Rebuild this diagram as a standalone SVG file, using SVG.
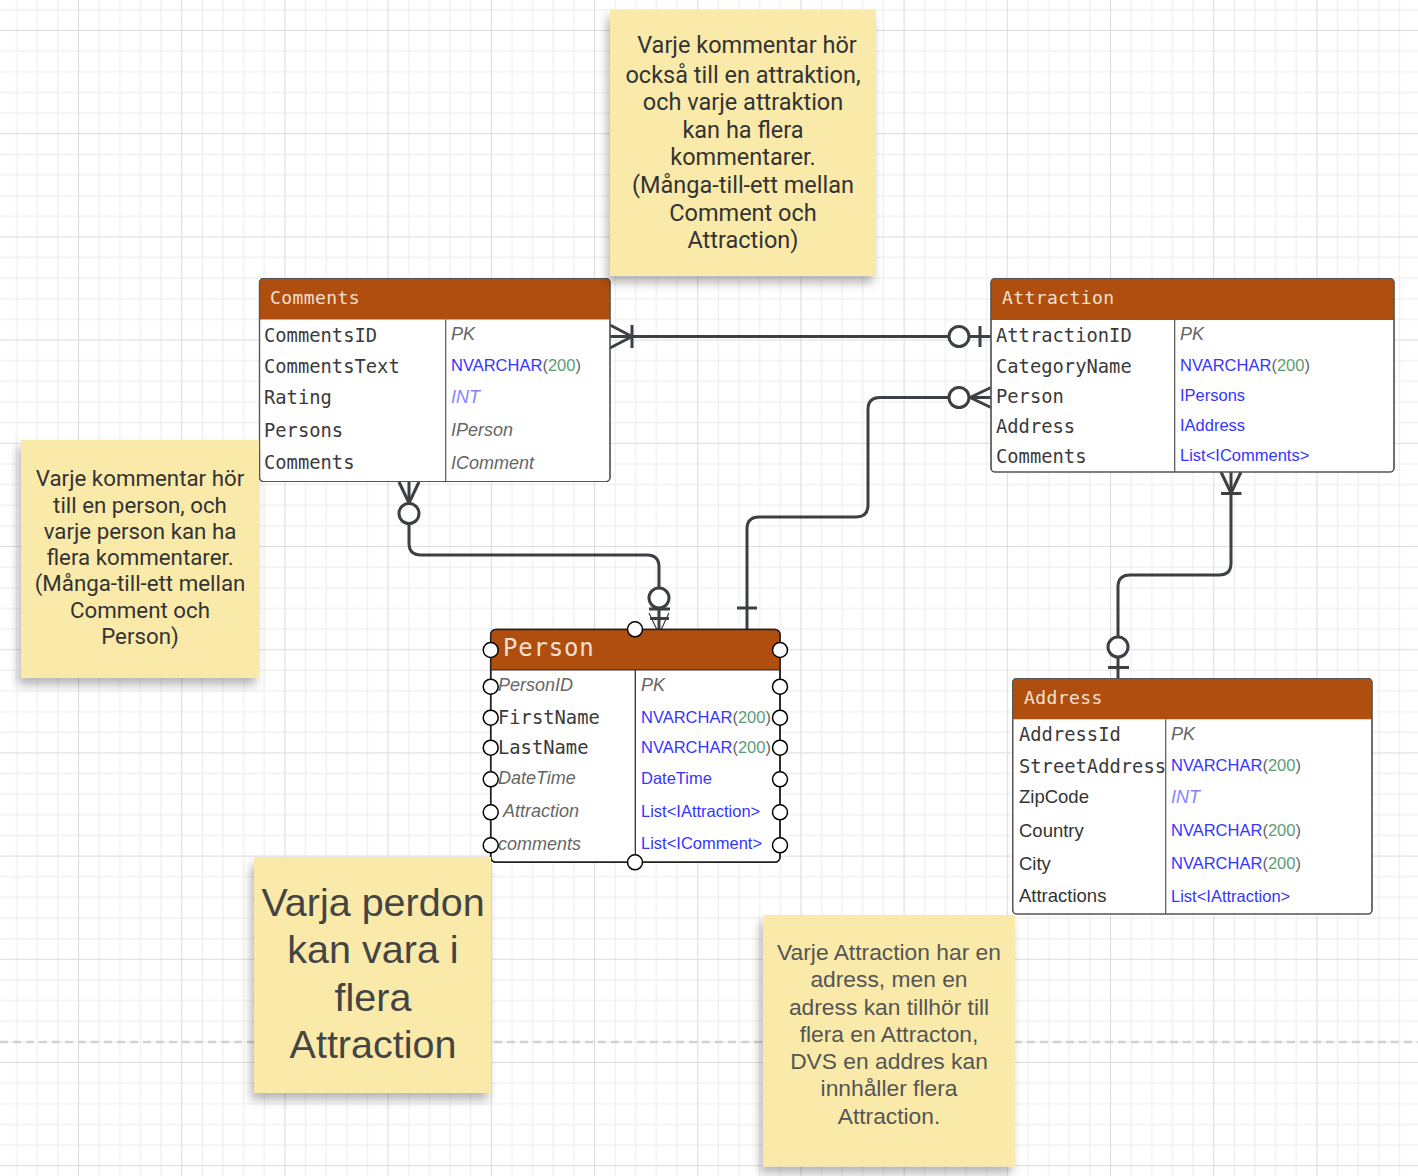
<svg xmlns="http://www.w3.org/2000/svg" width="1418" height="1176" viewBox="0 0 1418 1176">
<style>
.mono{font-family:"DejaVu Sans Mono","Liberation Mono",monospace;font-size:18.8px;fill:#3a3a3a}
.hdr{font-family:"DejaVu Sans Mono","Liberation Mono",monospace;font-size:18px;fill:#f3e2d2;letter-spacing:0.4px}
.typ{font-family:"Liberation Sans",Arial,sans-serif;font-size:16.5px;fill:#3535ff}
.par{fill:#666}
.num{fill:#5a9e72}
.it{font-family:"Liberation Sans",Arial,sans-serif;font-size:18px;font-style:italic;fill:#666}
.int{font-family:"Liberation Sans",Arial,sans-serif;font-size:18px;font-style:italic;fill:#8585ff}
.sans{font-family:"Liberation Sans",Arial,sans-serif;font-size:18.5px;fill:#333}
.body{fill:#fff;stroke:#555;stroke-width:1.2}
.head{fill:#b04e0f}
.div{stroke:#555;stroke-width:1.2}
.note{fill:#faeaaa;filter:url(#sh)}
.nr{font-family:Roboto,"Liberation Sans",sans-serif;fill:#333;text-anchor:middle}
.na{font-family:"Liberation Sans",Arial,sans-serif;text-anchor:middle}
.cn{fill:none;stroke:#3c3f43;stroke-width:3;stroke-linejoin:round}
.cc{fill:#fff;stroke:#3c3f43;stroke-width:3}
.pt{fill:#fff;stroke:#000;stroke-width:1.5}
</style>
<defs>
<pattern id="grid" width="103.2" height="103.2" patternUnits="userSpaceOnUse" x="78" y="30">
<path d="M21.14 0V103.2M41.78 0V103.2M62.42 0V103.2M83.06 0V103.2M0 21.14H103.2M0 41.78H103.2M0 62.42H103.2M0 83.06H103.2" stroke="#ececec" stroke-width="1" fill="none"/>
<path d="M0.5 0V103.2M0 0.5H103.2" stroke="#dcdcdc" stroke-width="1.2" fill="none"/>
</pattern>
<filter id="sh" x="-20%" y="-20%" width="140%" height="150%">
<feDropShadow dx="-3" dy="7" stdDeviation="5" flood-color="#000" flood-opacity="0.28"/>
</filter>
</defs>
<rect width="1418" height="1176" fill="#fff"/>
<rect width="1418" height="1176" fill="url(#grid)"/>
<line x1="0" y1="1042" x2="1418" y2="1042" stroke="#d2d2d2" stroke-width="2.5" stroke-dasharray="8 5"/>

<g id="connectors">
<path class="cn" d="M610 336.5H991"/>
<path class="cn" d="M610 325L632 336.5L610 348M632 325V348M980 326V347"/>
<circle class="cc" cx="959" cy="336.5" r="10"/>
<path class="cn" d="M991 397.5H880Q868 397.5 868 409.5V505Q868 517 856 517H759Q747 517 747 529V629"/>
<path class="cn" d="M991 387.5L970 397.5L991 407.5M737 608H757"/>
<circle class="cc" cx="959" cy="397.5" r="10"/>
<path class="cn" d="M409 482V543Q409 555 421 555H647Q659 555 659 567V629"/>
<path class="cn" d="M399 482L409 503L419 482M649 609H670M650 618.5H669"/>
<path d="M649 613L659 634L669 613" fill="none" stroke="#3c3f43" stroke-width="1.2"/>
<circle class="cc" cx="409" cy="513.5" r="10"/>
<circle class="cc" cx="659" cy="598" r="10"/>
<path class="cn" d="M1231 472V563Q1231 575 1219 575H1130Q1118 575 1118 587V678"/>
<path class="cn" d="M1221 472L1231 493L1241 472M1221 493.5H1241.5M1108 667.5H1129"/>
<circle class="cc" cx="1118" cy="647" r="10"/>
</g>

<g id="table-comments">
<rect class="body" x="259.5" y="278.5" width="350.5" height="203" rx="4"/>
<path class="head" d="M263.5 278.5H606Q610 278.5 610 282.5V319.5H259.5V282.5Q259.5 278.5 263.5 278.5Z"/>
<rect x="259.5" y="278.5" width="350.5" height="203" rx="4" fill="none" stroke="#555" stroke-width="1.2"/>
<line class="div" x1="445.7" y1="319.5" x2="445.7" y2="481.5"/>
<text class="hdr" x="270" y="304">Comments</text>
<text class="mono" x="264" y="341.5">CommentsID</text>
<text class="mono" x="264" y="372.5">CommentsText</text>
<text class="mono" x="264" y="404">Rating</text>
<text class="mono" x="264" y="436.5">Persons</text>
<text class="mono" x="264" y="469">Comments</text>
<text class="it" x="451" y="340">PK</text>
<text class="typ" x="451" y="371">NVARCHAR<tspan class="par">(</tspan><tspan class="num">200</tspan><tspan class="par">)</tspan></text>
<text class="int" x="451" y="403">INT</text>
<text class="it" x="451" y="436">IPerson</text>
<text class="it" x="451" y="468.5">IComment</text>
</g>

<g id="table-attraction">
<rect class="body" x="991" y="278.5" width="403" height="193.5" rx="4"/>
<path class="head" d="M995 278.5H1390Q1394 278.5 1394 282.5V320H991V282.5Q991 278.5 995 278.5Z"/>
<rect x="991" y="278.5" width="403" height="193.5" rx="4" fill="none" stroke="#555" stroke-width="1.2"/>
<line class="div" x1="1174.7" y1="320" x2="1174.7" y2="472"/>
<text class="hdr" x="1002" y="304">Attraction</text>
<text class="mono" x="996" y="341.5">AttractionID</text>
<text class="mono" x="996" y="372.5">CategoryName</text>
<text class="mono" x="996" y="402.5">Person</text>
<text class="mono" x="996" y="432.5">Address</text>
<text class="mono" x="996" y="462.5">Comments</text>
<text class="it" x="1180" y="340">PK</text>
<text class="typ" x="1180" y="371">NVARCHAR<tspan class="par">(</tspan><tspan class="num">200</tspan><tspan class="par">)</tspan></text>
<text class="typ" x="1180" y="401">IPersons</text>
<text class="typ" x="1180" y="431">IAddress</text>
<text class="typ" x="1180" y="461">List&lt;IComments&gt;</text>
</g>

<g id="table-person">
<rect x="490.7" y="629.5" width="289.3" height="232.8" rx="5" fill="#fff" stroke="#222" stroke-width="1.5"/>
<path class="head" d="M495.7 629.5H775Q780 629.5 780 634.5V670H490.7V634.5Q490.7 629.5 495.7 629.5Z"/>
<rect x="490.7" y="629.5" width="289.3" height="232.8" rx="5" fill="none" stroke="#222" stroke-width="1.5"/>
<line x1="490.7" y1="670" x2="780" y2="670" stroke="#222" stroke-width="1.2"/>
<line x1="635.3" y1="670" x2="635.3" y2="862.3" stroke="#222" stroke-width="1.2"/>
<text class="hdr" x="503" y="656" style="font-size:24px;letter-spacing:0.8px">Person</text>
<text class="it" x="498" y="690.5">PersonID</text>
<text class="mono" x="498" y="723.5">FirstName</text>
<text class="mono" x="498" y="753.5">LastName</text>
<text class="it" x="498" y="784">DateTime</text>
<text class="it" x="503" y="817">Attraction</text>
<text class="it" x="498" y="849.5">comments</text>
<text class="it" x="641" y="690.5">PK</text>
<text class="typ" x="641" y="722.5">NVARCHAR<tspan class="par">(</tspan><tspan class="num">200</tspan><tspan class="par">)</tspan></text>
<text class="typ" x="641" y="752.5">NVARCHAR<tspan class="par">(</tspan><tspan class="num">200</tspan><tspan class="par">)</tspan></text>
<text class="typ" x="641" y="783.5">DateTime</text>
<text class="typ" x="641" y="816.5">List&lt;IAttraction&gt;</text>
<text class="typ" x="641" y="849">List&lt;IComment&gt;</text>
<g id="person-points">
<circle class="pt" cx="635" cy="629.3" r="7.5"/>
<circle class="pt" cx="635" cy="862.3" r="7.5"/>
<circle class="pt" cx="490.7" cy="650" r="7.5"/>
<circle class="pt" cx="490.7" cy="686.7" r="7.5"/>
<circle class="pt" cx="490.7" cy="717.7" r="7.5"/>
<circle class="pt" cx="490.7" cy="747.7" r="7.5"/>
<circle class="pt" cx="490.7" cy="779.3" r="7.5"/>
<circle class="pt" cx="490.7" cy="812.3" r="7.5"/>
<circle class="pt" cx="490.7" cy="845.3" r="7.5"/>
<circle class="pt" cx="780" cy="650" r="7.5"/>
<circle class="pt" cx="780" cy="686.7" r="7.5"/>
<circle class="pt" cx="780" cy="717.7" r="7.5"/>
<circle class="pt" cx="780" cy="747.7" r="7.5"/>
<circle class="pt" cx="780" cy="779.3" r="7.5"/>
<circle class="pt" cx="780" cy="812.3" r="7.5"/>
<circle class="pt" cx="780" cy="845.3" r="7.5"/>
</g>
</g>

<g id="table-address">
<rect class="body" x="1012.7" y="678.5" width="359.3" height="235.5" rx="4"/>
<path class="head" d="M1016.7 678.5H1368Q1372 678.5 1372 682.5V719.3H1012.7V682.5Q1012.7 678.5 1016.7 678.5Z"/>
<rect x="1012.7" y="678.5" width="359.3" height="235.5" rx="4" fill="none" stroke="#555" stroke-width="1.2"/>
<line class="div" x1="1165.7" y1="719.3" x2="1165.7" y2="914"/>
<text class="hdr" x="1024" y="704">Address</text>
<text class="mono" x="1019" y="741">AddressId</text>
<text class="mono" x="1019" y="772.5">StreetAddress</text>
<text class="sans" x="1019" y="803">ZipCode</text>
<text class="sans" x="1019" y="836.5">Country</text>
<text class="sans" x="1019" y="869.5">City</text>
<text class="sans" x="1019" y="902">Attractions</text>
<text class="it" x="1171" y="740">PK</text>
<text class="typ" x="1171" y="771">NVARCHAR<tspan class="par">(</tspan><tspan class="num">200</tspan><tspan class="par">)</tspan></text>
<text class="int" x="1171" y="803">INT</text>
<text class="typ" x="1171" y="836">NVARCHAR<tspan class="par">(</tspan><tspan class="num">200</tspan><tspan class="par">)</tspan></text>
<text class="typ" x="1171" y="869">NVARCHAR<tspan class="par">(</tspan><tspan class="num">200</tspan><tspan class="par">)</tspan></text>
<text class="typ" x="1171" y="901.5">List&lt;IAttraction&gt;</text>
</g>

<g id="note-1">
<rect class="note" x="610" y="10" width="266" height="266"/>
<text class="nr" style="font-size:23.5px"><tspan x="747" y="53">Varje kommentar hör</tspan><tspan x="743" y="82.5">också till en attraktion,</tspan><tspan x="743" y="110">och varje attraktion</tspan><tspan x="743" y="137.5">kan ha flera</tspan><tspan x="743" y="165">kommentarer.</tspan><tspan x="743" y="192.5">(Många-till-ett mellan</tspan><tspan x="743" y="220.5">Comment och</tspan><tspan x="743" y="248">Attraction)</tspan></text>
</g>

<g id="note-2">
<rect class="note" x="21" y="440" width="238" height="238"/>
<text class="nr" style="font-size:22.3px"><tspan x="140" y="486">Varje kommentar hör</tspan><tspan x="140" y="512.5">till en person, och</tspan><tspan x="140" y="538.5">varje person kan ha</tspan><tspan x="140" y="565">flera kommentarer.</tspan><tspan x="140" y="591">(Många-till-ett mellan</tspan><tspan x="140" y="617.5">Comment och</tspan><tspan x="140" y="643.5">Person)</tspan></text>
</g>

<g id="note-3">
<rect class="note" x="254" y="857" width="237" height="236"/>
<text class="na" style="font-size:39.5px;fill:#444"><tspan x="373" y="916">Varja perdon</tspan><tspan x="373" y="963">kan vara i</tspan><tspan x="373" y="1011">flera</tspan><tspan x="373" y="1058">Attraction</tspan></text>
</g>

<g id="note-4">
<rect class="note" x="763" y="915" width="252" height="251.5"/>
<text class="na" style="font-size:22.8px;fill:#555"><tspan x="889" y="959.5">Varje Attraction har en</tspan><tspan x="889" y="987">adress, men en</tspan><tspan x="889" y="1014.5">adress kan tillhör till</tspan><tspan x="889" y="1041.5">flera en Attracton,</tspan><tspan x="889" y="1068.5">DVS en addres kan</tspan><tspan x="889" y="1096">innhåller flera</tspan><tspan x="889" y="1123.5">Attraction.</tspan></text>
</g>
</svg>
